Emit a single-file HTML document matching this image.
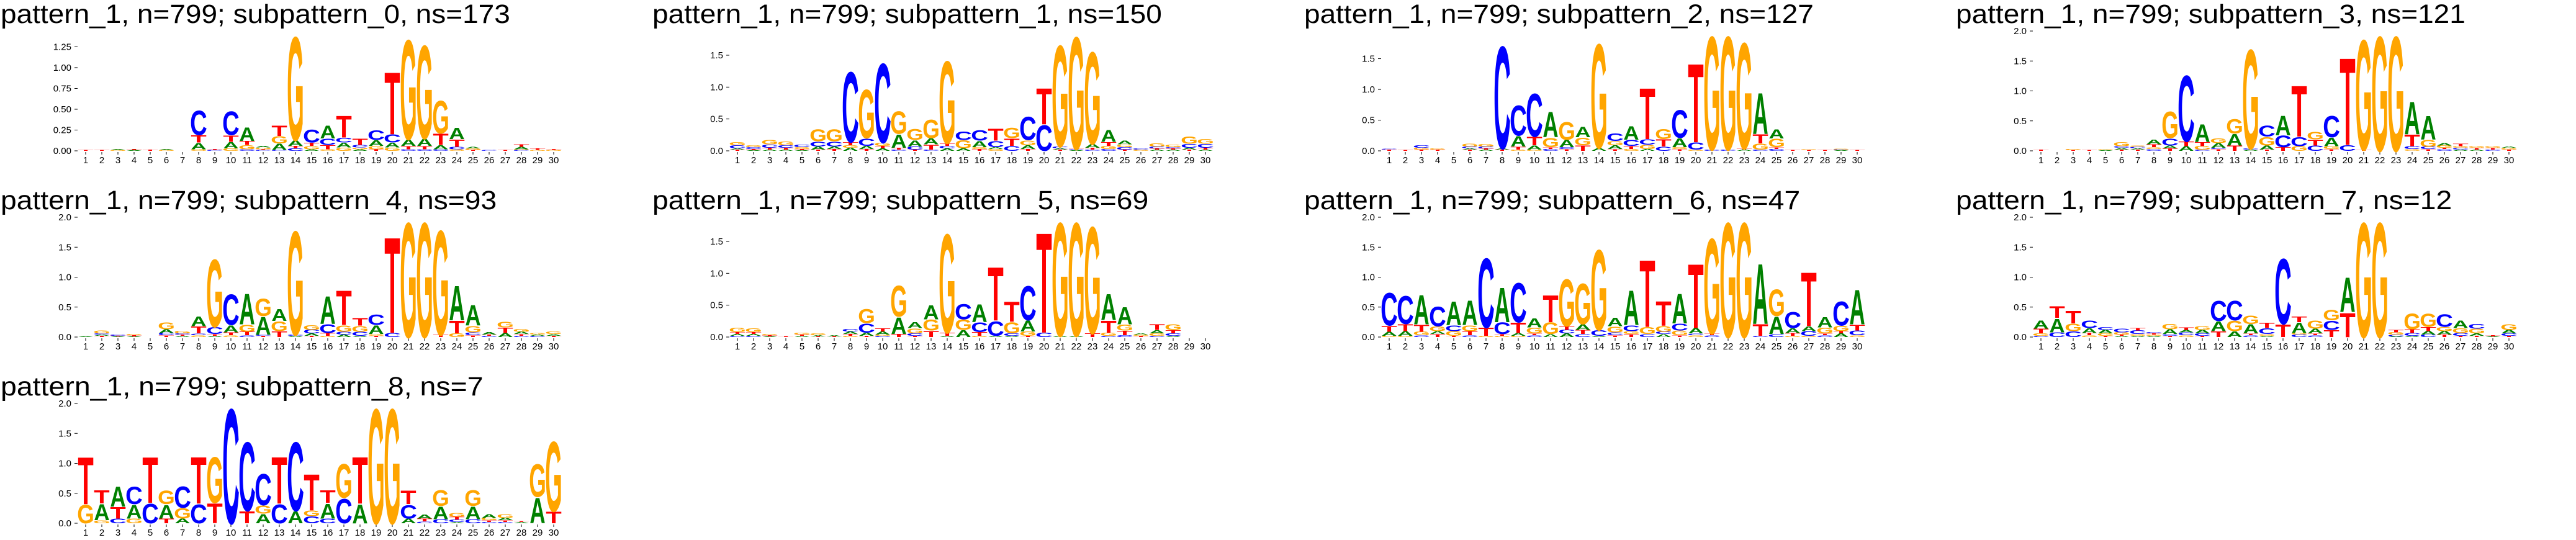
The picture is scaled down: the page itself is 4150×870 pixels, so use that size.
<!DOCTYPE html>
<html><head><meta charset="utf-8">
<style>
html,body{margin:0;padding:0;background:#fff;}
svg{display:block;}
text{font-family:"Liberation Sans",sans-serif;}
</style></head>
<body>
<svg id="chart" width="4150" height="870" viewBox="0 0 4150 870" xmlns="http://www.w3.org/2000/svg"></svg>
<script>
const positions = [1,2,3,4,5,6,7,8,9,10,11,12,13,14,15,16,17,18,19,20,21,22,23,24,25,26,27,28,29,30];
const titles = [
 "pattern_1, n=799; subpattern_0, ns=173",
 "pattern_1, n=799; subpattern_1, ns=150",
 "pattern_1, n=799; subpattern_2, ns=127",
 "pattern_1, n=799; subpattern_3, ns=121",
 "pattern_1, n=799; subpattern_4, ns=93",
 "pattern_1, n=799; subpattern_5, ns=69",
 "pattern_1, n=799; subpattern_6, ns=47",
 "pattern_1, n=799; subpattern_7, ns=12",
 "pattern_1, n=799; subpattern_8, ns=7"
];
const yMaxes = [1.44, 1.88, 1.95, 2.0, 2.0, 1.88, 2.0, 2.0, 2.0];
const yTicksSmall = [0, 0.25, 0.5, 0.75, 1.0, 1.25];
const yTicksLarge = [0, 0.5, 1.0, 1.5, 2.0];
const sub0 = ["T.01","T.01","G.01,A.01","A.01,T.01","T.015","G.01,A.01","","G.02,A.08,T.09,C.31","C.01,T.01","G.03,A.08,T.08,C.30",
 "C.02,G.05,T.05,A.17","C.01,T.01,G.02,A.02","C.01,A.08,G.09,T.13","C.03,T.03,A.07,G1.30","A.02,G.04,T.04,C.16","G.02,T.05,C.08,A.16","G.04,A.06,C.06,T.27","A.02,G.02,C.03,T.08","T.02,G.04,A.07,C.12","G.04,A.06,C.10,T.78",
 "C.02,T.04,A.08,G1.25","C.02,T.04,A.09,G1.17","C.02,A.05,T.14,G.41","G.02,C.03,T.09,A.14","T.01,G.02,A.02","C.01","T.01","C.01,G.01,A.03,T.03","G.01,T.02","G.01,T.01"];
const sub1 = ["T.02,A.02,C.05,G.05","A.01,T.02,C.03,G.03","A.02,T.03,C.05,G.07","A.02,T.03,C.04,G.06","A.01,T.02,G.03,C.04","T.02,A.05,C.08,G.20","T.03,A.04,C.08,G.20","A.05,G.04,T.05,C1.15","T.03,A.05,C.12,G.80","A.04,T.04,G.05,C1.30",
 "C.02,T.03,A.22,G.37","T.02,C.05,A.10,G.18","C.02,T.08,A.10,G.30","A.04,C.04,T.04,G1.35","A.04,G.13,C.14","T.03,G.03,A.10,C.17","G.03,A.03,C.10,T.20","C.08,T.12,G.17","T.03,A.06,G.08,C.38","C.42,T.59",
 "T.02,A.02,C.03,G1.66","A.01,C.01,T.01,G1.84","C.02,T.03,A.06,G1.51","C.03,G.05,T.06,A.20","T.02,C.04,G.04,A.06","G.02,C.02","A.02,T.02,C.03,G.05","A.02,T.02,C.02,G.04","T.02,A.03,C.06,G.12","A.02,T.03,C.06,G.08"];
const sub2 = ["T.02,C.01","T.01","T.02,G.03,C.04","T.02,G.02","","T.02,A.02,C.03,G.05","A.02,T.02,C.03,G.04","T.02,A.02,C1.74","G.02,T.05,A.18,C.51","G.02,A.07,T.14,C.73",
 "C.03,T.03,G.16,A.43","T.03,C.03,A.12,G.30","T.09,G.13,A.18","A.05,G1.77","T.03,A.06,G.07,C.13","G.03,T.05,C.10,A.23","A.03,G.07,C.09,T.87","C.07,T.12,G.17","T.03,G.03,A.15,C.47","G.02,C.12,T1.34",
 "C.02,G1.93","C.02,G1.93","A.02,T.02,G1.80","C.02,G.10,T.16,A.70","C.03,T.03,G.14,A.16","T.01","T.01,G.01","T.01","A.01,C.01,G.01","T.01"];
const sub3 = ["T.02","","T.01,G.02","T.01","A.01,G.01","T.02,A.03,C.03,G.07","T.02,A.02,C.03,G.02","C.03,G.03,T.05,A.08","T.04,A.05,C.12,G.46","A.08,T.08,C1.15",
 "C.02,G.06,T.07,A.31","T.03,C.02,A.08,G.08","T.09,A.20,G.25","A.02,C.02,G1.73","T.02,A.07,G.15,C.19","T.06,C.20,A.34","G.08,C.16,T.89","C.09,T.10,G.13","T.03,G.05,A.15,C.37","C.10,T1.52",
 "T.02,G1.92","G2.0","G2.0","G.03,C.05,T.20,A.57","T.03,C.04,G.12,A.41","C.03,T.02,G.04,A.04","A.02,C.03,G.03,T.04","A.02,T.03,G.03","C.02,T.03,G.03","T.02,G.03,A.02"];
const sub4 = ["A.01","T.02,A.02,C.02,G.05","A.01,T.01,C.02","A.01,T.02,G.02","","T.03,C.04,A.06,G.12","A.02,T.02,C.02,G.04","G.03,C.03,T.12,A.17","A.02,T.03,C.12,G1.18","G.03,T.05,A.12,C.53",
 "C.03,T.06,G.12,A.53","T.02,C.02,A.31,G.30","T.10,G.17,A.21","A.02,C.02,G1.81","T.02,A.04,C.06,G.08","G.02,T.05,C.15,A.48","A.04,C.05,G.11,T.60","A.02,C.07,G.10,T.13","T.02,G.03,A.15,C.18","C.07,T1.67",
 "G2.0","G2.0","T.04,G1.82","G.06,T.22,A.60","T.03,C.05,G.11,A.36","C.02,T.02,A.04","A.07,T.09,G.10","C.02,T.03,A.04,G.05","C.02,A.02,G.03","T.02,A.03,G.04"];
const sub5 = ["C.02,A.03,T.03,G.07","C.02,A.03,T.03,G.06","A.01,T.02,G.02","T.01","A.02,T.02,G.03","T.01,A.02,G.03","T.01,A.02","G.02,T.03,A.04,C.04","T.02,A.05,C.15,G.23","C.02,G.02,A.05,T.05",
 "T.05,A.27,G.51","T.02,C.04,G.08,A.10","T.10,G.18,A.23","A.02,T.05,G1.62","A.11,G.17,C.25","G.02,T.06,C.16,A.29","A.02,C.24,T.88","A.02,C.04,G.18,T.33","T.02,G.07,A.18,C.56","C.07,T1.64",
 "A.02,G1.86","A.02,G1.86","T.06,G1.75","C.02,G.05,T.20,A.43","C.03,T.07,G.10,A.28","T.02,G.02,A.02","C.02,G.04,A.05,T.09","A.02,C.04,T.05,G.09","",""];
const sub6 = ["G.02,A.07,T.10,C.57","G.02,A.08,T.12,C.49","C.03,G.06,T.12,A.51","T.05,A.05,G.08,C.34","T.02,G.08,C.10,A.41","C.03,T.07,G.10,A.43","G.02,T.14,C1.21","G.02,T.03,C.20,A.60","G.02,A.05,T.18,C.69","C.03,T.03,G.10,A.16",
 "A.05,G.20,T.47","A.06,C.06,T.06,G.82","C.05,T.07,A.10,G.71","A.02,C.10,G1.40","T.03,C.05,G.10,A.15","T.05,G.05,C.10,A.60","C.05,G.12,T1.17","A.05,C.04,G.10,T.43","T.03,G.08,C.12,A.52","G.03,C.03,A.09,T1.12",
 "C.03,T.03,G1.66","G2.0","G2.0","C.02,T.20,A1.05","C.05,A.30,G.46","G.02,T.05,A.08,C.28","G.02,C.08,A.08,T.94","C.03,T.03,G.10,A.18","A.06,T.04,G.09,C.42","G.03,C.08,T.10,A.60"];
const sub7 = ["C.02,G.04,T.08,A.14","C.08,A.24,T.20","C.10,G.13,T.22","G.03,T.04,A.08,C.13","T.02,G.04,A.06,C.05","A.02,T.02,G.04,C.06","A.02,G.03,C.06,T.04","A.02,G.02,T.02,C.02","T.02,C.03,A.08,G.09","G.03,C.05,A.04,T.04",
 "T.02,C.04,A.06,G.06","T.10,A.17,C.35","A.10,G.18,C.34","C.03,T.03,A.16,G.15","A.02,G.03,C.10,T.09","T.22,C1.14","C.04,G.03,A.18,T.10","C.03,T.03,A.08,G.14","T.12,C.16,G.18","T.42,A.60",
 "G2.0","G2.0","A.01,C.03,G.04,T.04","A.02,C.05,T.06,G.27","C.04,A.06,T.07,G.23","T.04,A.06,G.07,C.22","T.02,C.05,G.08,A.13","T.02,A.04,G.08,C.08","A.01,T.02","T.02,C.04,A.06,G.10"];
const sub8 = ["G.32,T.82","G.05,A.28,T.23","C.08,T.20,A.35","G.08,A.24,C.30","C.34,T.80","T.08,A.24,G.24","A.08,G.18,C.37","C.33,T.81","T.34,G.80","C2.0",
 "T.21,C1.20","A.16,G.14,C.55","C.33,T.81","A.21,C1.20","C.12,G.10,T.63","C.08,A.26,T.22","C.43,G.59","A.33,T.81","G2.0","G2.0",
 "A.08,C.24,T.24","C.03,T.05,A.07","C.07,A.22,G.27","A.02,C.04,T.05,G.06","C.07,A.22,G.27","C.02,T.03,G.04,A.06","C.02,T.03,A.04,G.06","A.02,T.01","A.44,G.57","T.20,G1.22"];
const logos = [sub0, sub1, sub2, sub3, sub4, sub5, sub6, sub7, sub8];

// layout
const colX0 = [138, 1188, 2238, 3288];
const rowY0 = [0, 300, 600];
const STEP = 26, LW = 24.5, BASE = 243, TOP = 50;
const colors = {A:"#008000", C:"#0000ff", G:"#ffa500", T:"#ff0000"};
const inkW = {A:70, C:64, G:69, T:59};
const NS = "http://www.w3.org/2000/svg";
const svg = document.getElementById('chart');

function mk(tag, attrs, parent){
  const e = document.createElementNS(NS, tag);
  for (const k in attrs) e.setAttribute(k, attrs[k]);
  parent.appendChild(e);
  return e;
}
function parseCol(s){
  if (!s) return [];
  return s.split(',').map(t => [t[0], parseFloat(t.slice(1))]);
}

logos.forEach((cols, i) => {
  const x0 = colX0[i % 4], y0 = rowY0[Math.floor(i / 4)];
  const ymax = yMaxes[i];
  const yScale = v => y0 + BASE - v * (BASE - TOP) / ymax;
  const xScale = p => x0 + (p - 1) * STEP;
  const g = mk('g', {}, svg);
  
  

  const title = mk('text', {x: x0 - 137, y: y0 + 37, 'font-size': 43, fill: '#000',
    textLength: (titles[i].length * 21.6).toFixed(1), lengthAdjust: 'spacingAndGlyphs'}, g);
  title.textContent = titles[i];
  
  

  const ticks = (i === 0) ? yTicksSmall : yTicksLarge;
  const yAxis = mk('g', {}, g);
  
  
  ticks.filter(v => v <= ymax + 1e-9).forEach(v => {
    const y = yScale(v);
    mk('line', {x1: x0 - 18, x2: x0 - 13, y1: y, y2: y, stroke: '#000', 'stroke-width': 1}, yAxis);
    const t = mk('text', {x: x0 - 23, y: y + 5, 'font-size': 15, 'text-anchor': 'end', fill: '#000'}, yAxis);
    t.textContent = (i === 0) ? v.toFixed(2) : v.toFixed(1);
    
    
  });

  const xAxis = mk('g', {}, g);
  
  
  positions.forEach(p => {
    const x = xScale(p);
    mk('line', {x1: x, x2: x, y1: y0 + 245, y2: y0 + 249, stroke: '#000', 'stroke-width': 1}, xAxis);
    const t = mk('text', {x: x, y: y0 + 263, 'font-size': 15, 'text-anchor': 'middle', fill: '#000'}, xAxis);
    t.textContent = String(p);
    
    
  });

  cols.forEach((s, ci) => {
    const cx = xScale(positions[ci]);
    let acc = 0;
    parseCol(s).forEach(([L, h]) => {
      if (h <= 0) return;
      const yb = yScale(acc), yt = yScale(acc + h);
      acc += h;
      const hp = yb - yt;
      const sx = LW / inkW[L], sy = hp / 72.9;
      const t = mk('text', {x: 0, y: 0, 'font-size': 100, 'font-weight': 'bold', 'text-anchor': 'middle',
        fill: colors[L], transform: `translate(${cx.toFixed(2)},${yb.toFixed(2)}) scale(${sx.toFixed(4)},${sy.toFixed(4)})`}, g);
      t.textContent = L;
      
      
    });
  });
});
</script>
</body></html>
